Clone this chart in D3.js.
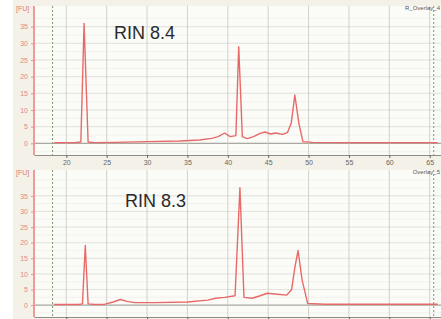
<!doctype html>
<html lang="en">
<head>
  <meta charset="utf-8">
  <title>RIN electropherograms</title>
  <script src="https://d3js.org/d3.v7.min.js"></script>
  <style>
    body { margin: 0; background: #fff; }
    svg { display: block; font-family: "Liberation Sans", Arial, sans-serif; }
  </style>
</head>
<body>
  <svg id="chart" width="441" height="319"></svg>
  <script>
    // migration time (s) and fluorescence (FU)
    const topTime = [18.5, 21.0, 21.8, 22.2, 22.7, 23.5, 26, 30, 34, 36.5, 38.0, 38.8, 39.6, 40.3, 41.0, 41.35, 41.8, 42.4, 43.2, 44.0, 44.6, 45.3, 45.9, 46.8, 47.4, 47.85, 48.3, 48.8, 49.3, 50.5, 55, 60, 66];
    const topFU = [0.2, 0.2, 0.4, 36, 0.4, 0.2, 0.3, 0.5, 0.7, 1.0, 1.5, 2.0, 3.1, 2.0, 2.3, 29, 2.0, 1.4, 2.0, 3.0, 3.4, 2.8, 3.1, 2.7, 3.3, 6.0, 14.5, 6.0, 0.5, 0.3, 0.2, 0.2, 0.2];

    const botTime = [18.5, 21.5, 22.0, 22.35, 22.7, 23.5, 24.8, 25.8, 26.7, 27.5, 28.5, 31, 35, 37.5, 38.5, 39.6, 40.9, 41.5, 42.0, 43.0, 44.0, 44.9, 46.1, 47.3, 47.9, 48.3, 48.7, 49.2, 49.9, 52, 58, 66];
    const botFU = [0.2, 0.2, 0.4, 19.1, 0.4, 0.2, 0.3, 1.0, 1.8, 1.2, 0.8, 0.8, 1.0, 1.6, 2.2, 2.5, 3.0, 37.6, 2.5, 2.2, 3.0, 3.8, 3.5, 3.2, 5.0, 12, 17.5, 8.0, 0.5, 0.3, 0.3, 0.3];

    const xTicks = [20, 25, 30, 35, 40, 45, 50, 55, 60, 65];
    const yTicks = [0, 5, 10, 15, 20, 25, 30, 35];
    const markerLines = [18.3, 65.5];

    const panels = [
      { time: topTime, fu: topFU, rin: "RIN 8.4", tag: "R_Overlay_4", top: 0, bottom: 167, plotTop: 6, axisY: 155, yDom: [-3.5, 40], textY: 39, textX: 114, xLabels: true },
      { time: botTime, fu: botFU, rin: "RIN 8.3", tag: "Overlay_5", top: 167, bottom: 319, plotTop: 170, axisY: 317, yDom: [-3.8, 42], textY: 207, textX: 125, xLabels: false }
    ];

    const svg = d3.select("#chart");
    const x = d3.scaleLinear().domain([16, 66.4]).range([34, 441]);

    panels.forEach(p => {
      const y = d3.scaleLinear().domain(p.yDom).range([p.axisY, p.plotTop + 4]);
      const g = svg.append("g");

      // panel + plot background
      g.append("rect").attr("x", 13).attr("y", p.top).attr("width", 428).attr("height", p.bottom - p.top)
        .attr("fill", "#f4f2e8");
      g.append("rect").attr("x", 34).attr("y", p.plotTop).attr("width", 407).attr("height", p.axisY - p.plotTop)
        .attr("fill", "#fbfbf8");

      // horizontal grid (minor + major)
      const minor = d3.range(-2.5, p.yDom[1], 2.5);
      g.selectAll(".hmin").data(minor).join("line")
        .attr("x1", 34).attr("x2", 441)
        .attr("y1", d => y(d)).attr("y2", d => y(d))
        .attr("stroke", "#eeeee9").attr("stroke-width", 0.7);
      g.selectAll(".hmaj").data(yTicks).join("line")
        .attr("x1", 34).attr("x2", 441)
        .attr("y1", d => y(d)).attr("y2", d => y(d))
        .attr("stroke", d => d === 0 ? "#a9a9a2" : "#e0e0da")
        .attr("stroke-width", d => d === 0 ? 1.2 : 0.8);

      // vertical grid
      g.selectAll(".vgrid").data(xTicks).join("line")
        .attr("x1", d => x(d)).attr("x2", d => x(d))
        .attr("y1", p.plotTop).attr("y2", p.axisY)
        .attr("stroke", "#c8c8c2").attr("stroke-width", 0.8);

      // dashed marker lines
      g.selectAll(".mk").data(markerLines).join("line")
        .attr("x1", d => x(d)).attr("x2", d => x(d))
        .attr("y1", p.plotTop).attr("y2", p.axisY)
        .attr("stroke", "#7d9a6e").attr("stroke-width", 1)
        .attr("stroke-dasharray", "2,2");

      // x axis (bottom panel labels fall off the picture)
      const xa = g.append("g").attr("transform", `translate(0,${p.axisY})`)
        .call(d3.axisBottom(x).tickValues(xTicks).tickSize(3).tickSizeOuter(0)
          .tickFormat(p.xLabels ? d3.format("d") : ""));
      xa.select(".domain").attr("stroke", "#8d8d86");
      xa.selectAll(".tick line").attr("stroke", "#666");
      xa.selectAll(".tick text").attr("fill", "#666").attr("font-size", 7).attr("dy", "0.5em");

      // y axis (pink)
      const ya = g.append("g").attr("transform", "translate(34,0)")
        .call(d3.axisLeft(y).tickValues(yTicks).tickSize(3).tickSizeOuter(0));
      ya.select(".domain").attr("stroke", "#f09a9a").attr("stroke-width", 2)
        .attr("d", `M0,${p.plotTop}V${p.axisY}`);
      ya.selectAll(".tick line").attr("stroke", "#ec9090");
      ya.selectAll(".tick text").attr("fill", "#e38686").attr("font-size", 7);
      g.append("text").attr("x", 16).attr("y", p.plotTop + 5)
        .attr("font-size", 7).attr("fill", "#e07a7a").text("[FU]");

      // trace
      const pts = p.time.map((t, i) => [t, p.fu[i]]);
      g.append("path").datum(pts)
        .attr("fill", "none").attr("stroke", "#e86a68").attr("stroke-width", 1.4)
        .attr("stroke-linejoin", "round")
        .attr("d", d3.line().x(d => x(d[0])).y(d => y(d[1])));

      // labels
      g.append("text").attr("x", p.textX).attr("y", p.textY)
        .attr("font-size", 18).attr("fill", "#2a2a2a").text(p.rin);
      g.append("text").attr("x", 440).attr("y", p.plotTop + 4).attr("text-anchor", "end")
        .attr("font-size", 6).attr("fill", "#555").text(p.tag);
    });
  </script>
</body>
</html>
